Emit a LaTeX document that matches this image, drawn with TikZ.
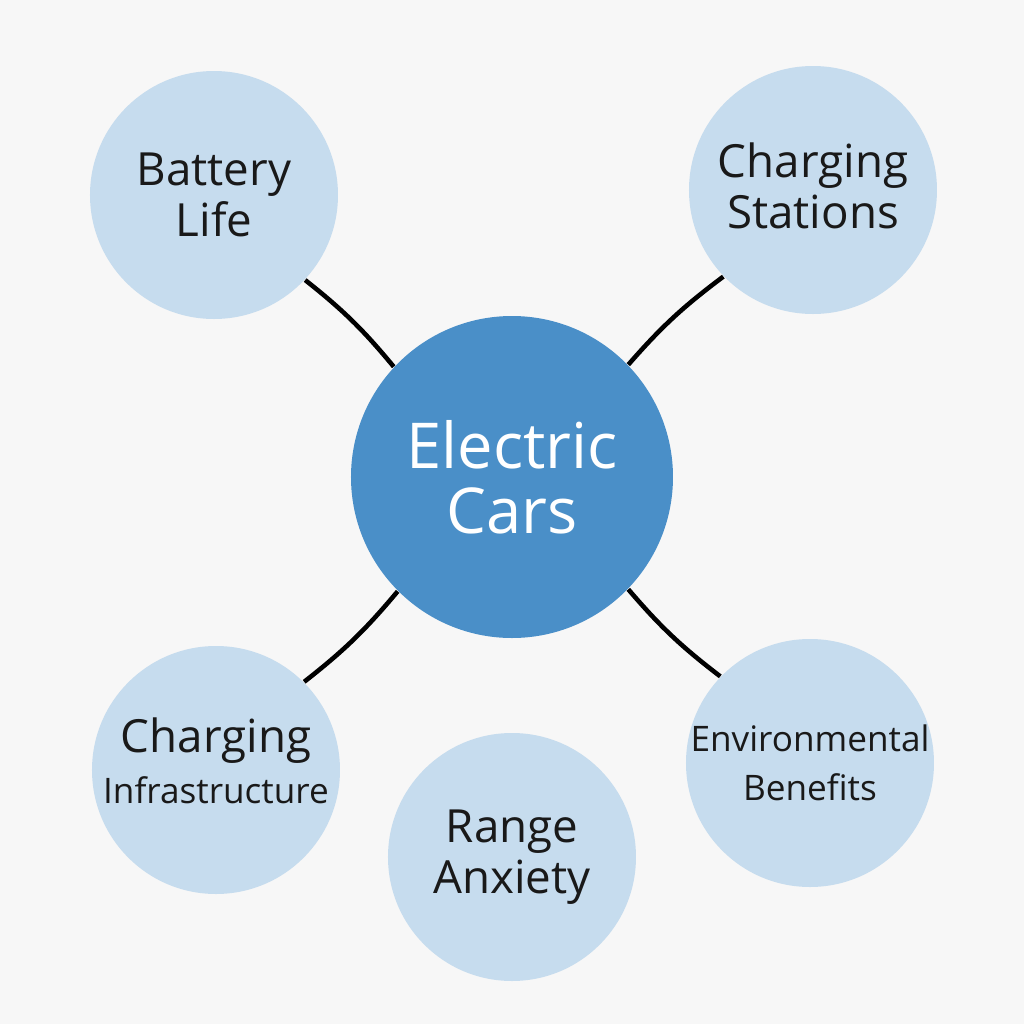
\documentclass[tikz,border=0pt]{standalone}
\usepackage{fontspec}
\setmainfont{Open Sans}
\definecolor{hubblue}{HTML}{4A8FC8}
\definecolor{leafblue}{HTML}{C6DCEE}
\definecolor{paper}{HTML}{F7F7F7}
\tikzset{
  hub/.style={circle, fill=hubblue, text=white, minimum size=3.22cm, inner sep=0pt,
    align=center, font=\fontsize{18}{18.5}\selectfont},
  leaf/.style={circle, fill=leafblue, text=black!90, minimum size=2.48cm, inner sep=-5mm,
    align=center, font=\fontsize{13}{14.5}\selectfont},
  small/.style={font=\fontsize{10}{14}\selectfont},
}
\begin{document}
\begin{tikzpicture}
      \fill[paper] (-5.12,-5.12) rectangle (5.12,5.12);
      \useasboundingbox (-5.12,-5.12) rectangle (5.12,5.12);
      \draw
        (0,0.35) node[hub] (ec){Electric\\Cars}
        (-2.98,3.17) node[leaf] (bl){Battery\\Life}
        (3.01,3.22) node[leaf, text depth=0.8mm] (cs){Charging\\Stations}
        (-2.96,-2.58) node[leaf, text depth=1.8mm] (ci){Charging\\{\fontsize{10}{14}\selectfont Infrastructure}}
        (2.98,-2.51) node[leaf, small] (eb){Environmental\\Benefits}
        (0,-3.45) node[leaf] (ra){Range\\Anxiety};
      \begin{scope}[-, line width=1.3pt, black]
        \draw (bl.-43) to[bend left=6] (ec.137);
        \draw (cs.-136) to[bend right=6] (ec.44);
        \draw (ci.45) to[bend right=6] (ec.-135);
        \draw (eb.136) to[bend left=6] (ec.-44);
      \end{scope}
    \end{tikzpicture}
\end{document}
